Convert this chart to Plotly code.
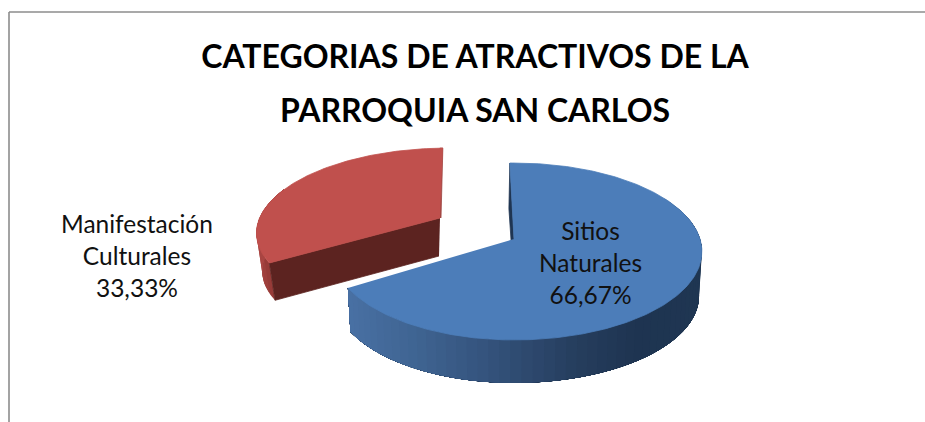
import numpy as np
import plotly.graph_objects as go

# ---- data ----
categories = ["Sitios<br>Naturales", "Manifestación<br>Culturales"]
values = [66.67, 33.33]
title_lines = ["CATEGORIAS DE ATRACTIVOS DE LA", "PARROQUIA SAN CARLOS"]

# ---- style / geometry ----
W, H = 925, 422
FONT = "Lato"
ROT = -1.5
K = 0.1411
A, B = 186.0, 86.7
TOP = {"blue": "#4c7db9", "red": "#c0504d"}
CUT = {"blue": "#1f3552", "red": "#5c2320", "red_side": "#a04643"}
SL = [
    dict(c=(514, 239), sx=1.0, sx_left=0.97, sy=1.0, shear=0.0, depth=44.5, base=0.985, dx=0, adx=0),
    dict(c=(440, 218), sx=0.97, sx_left=0.97, sy=0.92, shear=-0.10, depth=38, base=0.985, dx=3, adx=-1),
]
BLUE_RAMP = [(340, "#4a72a6"), (420, "#3f6492"), (500, "#33517a"), (580, "#263e5e"), (640, "#1e3451"), (705, "#1f3652")]
RED_RAMP = [(255, "#ab4643"), (275, "#8f3734")]


def hex2rgb(h):
    return np.array([int(h[i:i + 2], 16) for i in (1, 3, 5)], float)


def ramp(x, stops):
    xs = [s[0] for s in stops]
    rgb = np.array([hex2rgb(s[1]) for s in stops])
    r, g, b = (np.interp(x, xs, rgb[:, i]) for i in range(3))
    return f"rgb({r:.0f},{g:.0f},{b:.0f})"


def proj(phi, s, base=False):
    """phi: degrees clockwise from the back of the pie."""
    p = np.radians(np.atleast_1d(phi))
    u, v = np.sin(p), -np.cos(p)
    w = 1 - K * v
    X, Y = A * u / w * np.where(u < 0, s["sx_left"], s["sx"]), B * v / w * s["sy"]
    X = X + s["shear"] * Y
    if base:
        X, Y = X * s["base"] + s["dx"], Y * s["base"] + s["depth"]
    return s["c"][0] + X, s["c"][1] + Y


def apex(s, base=False):
    return (s["c"][0] + (s["adx"] if base else 0), s["c"][1] + (s["depth"] if base else 0))


def poly(xs, ys, color, lw=0.8):
    return go.Scatter(x=list(xs), y=list(ys), mode="lines", fill="toself", fillcolor=color,
                      line=dict(color=color, width=lw), hoverinfo="skip", showlegend=False)


def wall(phi_start, phi_end, n, stops, s):
    """Layered strips: each reaches on to phi_end so no seams show between them."""
    phis = np.linspace(phi_start, phi_end, n)
    for p0 in phis[:-1]:
        arc = np.linspace(p0, phi_end, 40)
        x0, y0 = proj(arc, s)
        x1, y1 = proj(arc[::-1], s, base=True)
        fig.add_trace(poly(np.r_[x0, x1], np.r_[y0, y1], ramp(x0[0], stops), lw=0))


fig = go.Figure()
total = sum(values)
a0 = ROT
a1 = a0 + 360 * values[0] / total
a2 = a1 + 360 * values[1] / total

# --- red slice: wall, cut faces, top
s = SL[1]
wall(a1, 292, 12, RED_RAMP, s)
tx, ty = proj(a1, s)
bx, by = proj(a1, s, base=True)
ax, ay = apex(s)
abx, aby = apex(s, True)
fig.add_trace(poly([ax, tx[0], bx[0], abx], [ay, ty[0], by[0], aby], CUT["red"]))
tx, ty = proj(a2, s)
fig.add_trace(poly([ax, tx[0] - 3, tx[0], ax + 1], [ay, ty[0], ty[0], ay], CUT["red_side"]))
phis = np.linspace(a1, a2, 120)
x, y = proj(phis, s)
fig.add_trace(poly(np.r_[ax, x], np.r_[ay, y], TOP["red"]))

# --- blue slice: wall, cut face, top
s = SL[0]
wall(60, a1, 60, BLUE_RAMP, s)
tx, ty = proj(a0, s)
bx, by = proj(a0, s, base=True)
ax, ay = apex(s)
abx, aby = apex(s, True)
fig.add_trace(poly([ax, tx[0], bx[0] - 1, abx], [ay, ty[0], by[0], aby], CUT["blue"]))
phis = np.linspace(a0, a1, 240)
x, y = proj(phis, s)
fig.add_trace(poly(np.r_[ax, x], np.r_[ay, y], TOP["blue"]))


def label(i):
    return f"{categories[i]}<br>{values[i]:.2f}%".replace(".", ",")


fig.add_annotation(x=590, y=262.5, text=label(0), showarrow=False, font=dict(family=FONT, size=24.5, color="#111"),
                   align="center", xanchor="center", yanchor="middle")
fig.add_annotation(x=137, y=255.5, text=label(1), showarrow=False, font=dict(family=FONT, size=24.5, color="#111"),
                   align="center", xanchor="center", yanchor="middle")
fig.add_annotation(x=475, y=109.5, text=title_lines[1], showarrow=False,
                   font=dict(family=FONT, size=32, color="#000", weight="bold"), xanchor="center", yanchor="middle")

fig.add_shape(type="line", x0=9, x1=W, y0=12, y1=12, line=dict(color="#8c8c8c", width=1.6))
fig.add_shape(type="line", x0=9, x1=9, y0=12, y1=H, line=dict(color="#8c8c8c", width=1.6))

fig.update_layout(
    width=W, height=H, margin=dict(l=0, r=0, t=0, b=0), showlegend=False,
    paper_bgcolor="white", plot_bgcolor="white",
    title=dict(text=title_lines[0], x=475 / W, xanchor="center", y=1 - 57 / H, yanchor="middle",
               font=dict(family=FONT, size=32, color="#000", weight="bold")),
    xaxis=dict(range=[0, W], visible=False, fixedrange=True),
    yaxis=dict(range=[H, 0], visible=False, fixedrange=True),
)
fig.write_html("out.html", config={"displayModeBar": False},
               post_script="document.body.style.margin='0';document.body.style.overflow='hidden';")
